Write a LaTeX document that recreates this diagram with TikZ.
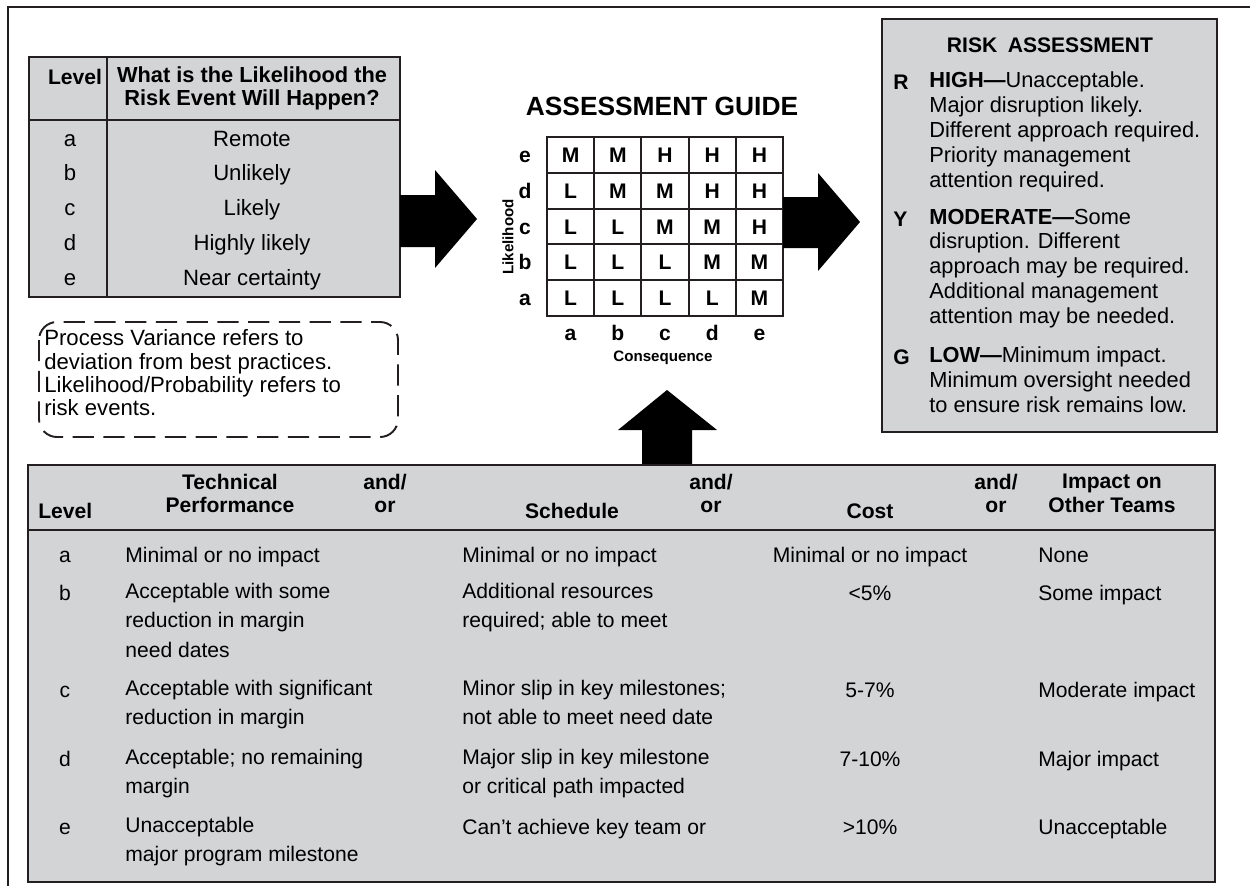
\documentclass[tikz,border=0pt]{standalone}
\usepackage{fontspec}
\setmainfont{Liberation Sans}
\usetikzlibrary{positioning}
\definecolor{panelgray}{RGB}{211,212,214}
\definecolor{ink}{RGB}{35,31,32}

\begin{document}
\begin{tikzpicture}[x=0.02cm, y=-0.02cm,
    txt/.style={inner sep=0pt, anchor=base west, align=left, font=\fontsize{12}{17}\selectfont},
    hd/.style={txt, font=\fontsize{12}{13.6}\selectfont\bfseries},
    ctr/.style={anchor=base, align=center},
    firstline/.style={execute at begin node={\rule{0pt}{10pt}}, yshift=10pt, anchor=north west},
    firstlinec/.style={firstline, anchor=north, align=center},
    panel/.style={draw=ink, line width=1.2pt, fill=panelgray},
    rule/.style={ink, line width=1.2pt},
    gridletter/.style={inner sep=0pt, font=\fontsize{12}{14}\selectfont\bfseries, text height=8.6pt, text depth=0pt},
    axislabel/.style={inner sep=0pt, font=\fontsize{8.6}{10}\selectfont\bfseries}]
\useasboundingbox (0,0) rectangle (1250,886);
\draw[ink, line width=1.1pt] (1250,7) -- (8,7) -- (8,886);

% likelihood table
\draw[panel] (29,57) rectangle (400,297);
\draw[rule] (29,120) -- (400,120) (107,57) -- (107,297);
\node[hd, ctr] (likLevel) at (75,84) {Level};
\node[hd, firstlinec, font=\fontsize{12.4}{13.2}\selectfont\bfseries] (likQuestion) at (252,84) {What is the Likelihood the\\Risk Event Will Happen?};
\foreach \l/\t [count=\i] in {a/Remote, b/Unlikely, c/Likely, d/Highly likely, e/Near certainty} {
  \node[txt, ctr, font=\fontsize{12.6}{14}\selectfont] (likL\i) at (70,{146+34.8*(\i-1)}) {\l};
  \node[txt, ctr, font=\fontsize{12.6}{14}\selectfont] (likT\i) at (252,{146+34.8*(\i-1)}) {\t};
}

% note
\draw[ink, line width=1.1pt, dash pattern=on 12pt off 5.5pt, rounded corners=0.36cm] (39,322) rectangle (398,437);
\node[txt, firstline, font=\fontsize{12.6}{13.2}\selectfont] (noteText) at (44,347) {Process Variance refers to\\deviation from best practices.\\Likelihood/Probability refers to\\risk events.};

% assessment guide
\node[inner sep=0pt, font=\fontsize{15}{18}\selectfont\bfseries] (guideTitle) at (662,106) {ASSESSMENT GUIDE};
\draw[rule, fill=white] (547,137) rectangle (783,316);
\foreach \k in {1,...,4} {
  \draw[rule] ({547+47.2*\k},137) -- ({547+47.2*\k},316);
  \draw[rule] (547,{137+35.8*\k}) -- (783,{137+35.8*\k});
}
\foreach \row [count=\r] in {{M,M,H,H,H},{L,M,M,H,H},{L,L,M,M,H},{L,L,L,M,M},{L,L,L,L,M}}
  \foreach \v [count=\c] in \row
    \node[gridletter] (g\r\c) at ({547+47.2*(\c-0.5)},{137+35.8*(\r-0.5)}) {\v};
\foreach \l [count=\k] in {e,d,c,b,a}
  \node[gridletter] (rowLab\k) at (525,{137+35.8*(\k-0.5)}) {\l};
\foreach \l [count=\k] in {a,b,c,d,e}
  \node[gridletter] (colLab\k) at ({547+47.2*(\k-0.5)},333) {\l};
\node[axislabel] (consequence) at (663,358) {Consequence};
\node[axislabel, rotate=90] (likelihood) at (508,237) {Likelihood};

% block arrows
\fill (400,195) -- (435,195) -- (435,170) -- (477,219) -- (435,268) -- (435,247) -- (400,247) -- cycle;
\fill (783,197) -- (818,197) -- (818,173) -- (860,222) -- (818,271) -- (818,248) -- (783,248) -- cycle;
\fill (642,465) -- (642,430) -- (618,430) -- (667,390) -- (717,430) -- (692,430) -- (692,465) -- cycle;

% risk assessment
\draw[panel] (882,19) rectangle (1217,432);
\node[hd, ctr] (riskTitle) at (1050,52) {RISK\hspace{.5em}ASSESSMENT};
\node[hd] (riskR) at (893,89) {R};
\node[txt, firstline, font=\fontsize{12.4}{14.2}\selectfont] (riskHigh) at (929,89) {\textbf{HIGH---}Unacceptable.\\Major disruption likely.\\Different approach required.\\Priority management\\attention required.};
\node[hd] (riskY) at (893,226) {Y};
\node[txt, firstline, font=\fontsize{12.4}{14.2}\selectfont] (riskModerate) at (929,226) {\textbf{MODERATE---}Some\\disruption. Different\\approach may be required.\\Additional management\\attention may be needed.};
\node[hd] (riskG) at (893,364) {G};
\node[txt, firstline, font=\fontsize{12.4}{14.2}\selectfont] (riskLow) at (929,364) {\textbf{LOW---}Minimum impact.\\Minimum oversight needed\\to ensure risk remains low.};

% consequence table
\draw[panel] (28,465) rectangle (1215,882);
\draw[rule] (28,530) -- (1215,530);
\node[hd] (hLevel) at (38,518) {Level};
\node[hd, firstlinec] (hTech) at (230,491) {Technical\\Performance};
\node[hd, firstlinec] (hOrA) at (385,491) {and/\\or};
\node[hd, ctr] (hSched) at (572,518) {Schedule};
\node[hd, firstlinec] (hOrB) at (711,491) {and/\\or};
\node[hd, ctr] (hCost) at (870,518) {Cost};
\node[hd, firstlinec] (hOrC) at (996,491) {and/\\or};
\node[hd, firstlinec] (hTeams) at (1112,491) {Impact on\\Other Teams};
\foreach \lv/\yy/\tp/\sc/\co/\ot in {
  a/562/{Minimal or no impact}/{Minimal or no impact}/{Minimal or no impact}/{None},
  b/600/{Acceptable with some\\reduction in margin\\need dates}/{Additional resources\\required; able to meet}/{<5\%}/{Some impact},
  c/697/{Acceptable with significant\\reduction in margin}/{Minor slip in key milestones;\\not able to meet need date}/{5-7\%}/{Moderate impact},
  d/766/{Acceptable; no remaining\\margin}/{Major slip in key milestone\\or critical path impacted}/{7-10\%}/{Major impact},
  e/834/{Unacceptable\\major program milestone}/{Can't achieve key team or}/{>10\%}/{Unacceptable}} {
  \node[txt, ctr] (lv\lv) at (65,\yy) {\lv};
  \node[txt, firstline] (tp\lv) at (125,\yy) {\tp};
  \node[txt, firstline] (sc\lv) at (462,\yy) {\sc};
  \node[txt, firstlinec] (co\lv) at (870,\yy) {\co};
  \node[txt, firstline] (ot\lv) at (1038,\yy) {\ot};
}
\end{tikzpicture}
\end{document}
